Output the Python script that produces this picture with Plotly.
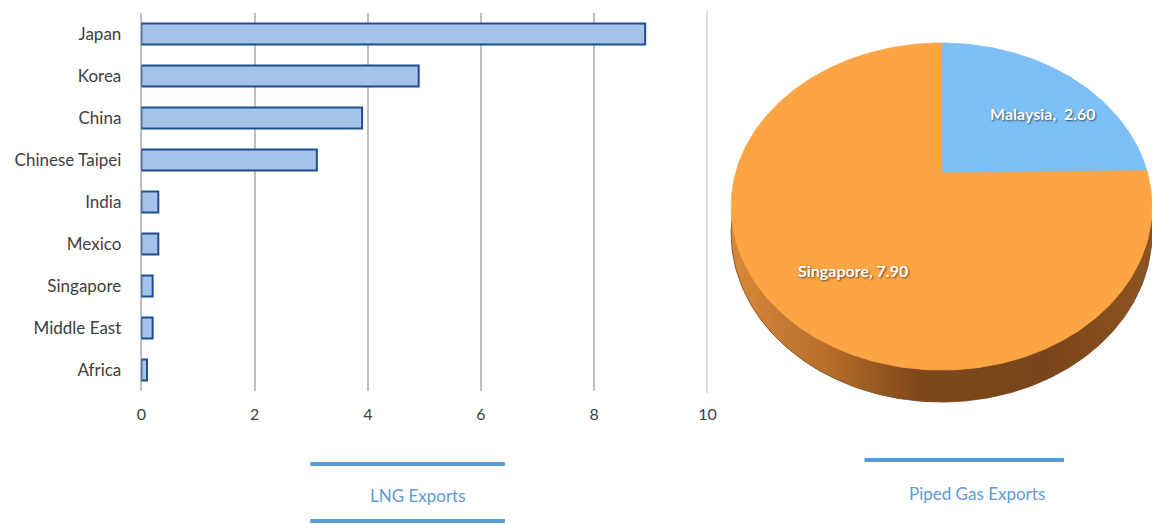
import numpy as np
import plotly.graph_objects as go

# LNG exports by destination
lng_destinations = ["Japan", "Korea", "China", "Chinese Taipei", "India",
                    "Mexico", "Singapore", "Middle East", "Africa"]
lng_values = [8.9, 4.9, 3.9, 3.1, 0.3, 0.3, 0.2, 0.2, 0.1]
lng_ticks = [0, 2, 4, 6, 8, 10]

# Piped gas exports by destination
piped_destinations = ["Malaysia", "Singapore"]
piped_values = [2.60, 7.90]
piped_colors = ["#7dc0f6", "#fca545"]
piped_label_text = ["Malaysia,  2.60", "Singapore, 7.90"]

W, H = 1161, 524
FONT = "Lato"

fig = go.Figure()

# ---- bar chart -------------------------------------------------------------
fig.add_trace(go.Bar(
    x=lng_values, y=lng_destinations, orientation="h",
    marker=dict(color="#a5c3e8", line=dict(color="#1f4f8f", width=2)),
    xaxis="x", yaxis="y", showlegend=False, hoverinfo="x+y",
))

# gridline at the end of the value axis
fig.add_shape(type="line", xref="x", yref="y domain",
              x0=lng_ticks[-1], x1=lng_ticks[-1], y0=-0.005, y1=1.005,
              line=dict(color="#bfbfbf", width=2), layer="below")

# ---- tilted 3-D style pie (perspective projection of a disc) ---------------
cx, cy = 948.0, 173.0      # screen position of the disc centre
a, b, g = 208.5, 121.2, -0.205   # horizontal / vertical scale, perspective
thick = 25.4               # disc thickness


def project(u, v, dz=0.0):
    d = 1.0 + g * v
    return cx + a * u / d, (b * v + cy + dz) / d


total = float(sum(piped_values))
full = np.linspace(0, 2 * np.pi, 361)

# side wall: the lower rim drawn first, top face covers the rest
sx, sy = project(np.sin(full), -np.cos(full), thick)
fig.add_trace(go.Scatter(
    x=sx, y=sy, mode="lines", fill="toself",
    line=dict(color="#6e3f16", width=0.8),
    fillgradient=dict(type="horizontal", colorscale=[
        [0.0, "#d8893a"], [0.22, "#b86f2b"], [0.45, "#7c471a"],
        [0.75, "#7a451a"], [1.0, "#8c5420"]]),
    xaxis="x2", yaxis="y2", showlegend=False, hoverinfo="skip",
))

start = 0.0
for name, val, col in zip(piped_destinations, piped_values, piped_colors):
    sweep = 2 * np.pi * val / total
    th = np.linspace(start, start + sweep, max(int(np.degrees(sweep)), 2))
    px, py = project(np.sin(th), -np.cos(th))
    ox, oy = project(0.0, 0.0)
    fig.add_trace(go.Scatter(
        x=np.r_[ox, px, ox], y=np.r_[oy, py, oy], mode="lines",
        fill="toself", fillcolor=col,
        line=dict(color=col, width=0.8),
        name=name, xaxis="x2", yaxis="y2", showlegend=False,
        hovertemplate=f"{name}: {val:.2f}<extra></extra>",
    ))
    start += sweep

# slice labels
label_pos = [(1051, 113), (858, 270)]
for txt, (lx, ly) in zip(piped_label_text, label_pos):
    fig.add_annotation(
        x=lx, y=ly, xref="x2", yref="y2", text=txt, showarrow=False,
        xanchor="center", yanchor="middle",
        font=dict(family=FONT, size=16, color="white", weight="bold",
                  shadow="1px 1px 2px rgba(0,0,0,0.6)"),
    )

# ---- section captions with rule lines ---------------------------------------
blue = "#5b9bd5"
for x0, x1, y in [(309, 506, 464), (309, 506, 521), (870, 1072, 460)]:
    fig.add_shape(type="line", xref="paper", yref="paper",
                  x0=x0 / W, x1=x1 / W, y0=1 - y / H, y1=1 - y / H,
                  line=dict(color=blue, width=4))
for txt, x, y in [("LNG Exports", 418, 495), ("Piped Gas Exports", 984, 493)]:
    fig.add_annotation(x=x / W, y=1 - y / H, xref="paper", yref="paper",
                       text=txt, showarrow=False,
                       xanchor="center", yanchor="middle",
                       font=dict(family=FONT, size=17, color=blue))

# ---- layout ------------------------------------------------------------------
fig.update_layout(
    width=W, height=H,
    margin=dict(l=0, r=0, t=0, b=0),
    paper_bgcolor="white", plot_bgcolor="rgba(0,0,0,0)",
    bargap=0.5,
    font=dict(family=FONT, size=16, color="#404040"),
    xaxis=dict(
        domain=[138 / W, 711 / W], range=[0, 10],
        tickvals=lng_ticks, ticktext=[str(t) for t in lng_ticks],
        showgrid=True, gridcolor="#bfbfbf", gridwidth=2,
        zeroline=True, zerolinecolor="#bfbfbf", zerolinewidth=2,
        showline=False, ticks="",
        ticklabelstandoff=12, fixedrange=True,
        tickfont=dict(family=FONT, size=16, color="#404040"),
    ),
    yaxis=dict(
        domain=[1 - 391 / H, 1 - 13 / H],
        categoryorder="array", categoryarray=lng_destinations,
        autorange="reversed",
        showgrid=False, zeroline=False, showline=False, ticks="",
        ticklabelstandoff=19, fixedrange=True,
        tickfont=dict(family=FONT, size=17, color="#404040"),
    ),
    xaxis2=dict(domain=[0.63, 1.0], range=[0.63 * W, W], visible=False,
                fixedrange=True),
    yaxis2=dict(domain=[0, 1], range=[H, 0], visible=False, fixedrange=True,
                anchor="x2"),
)

fig.write_html("out.html")
